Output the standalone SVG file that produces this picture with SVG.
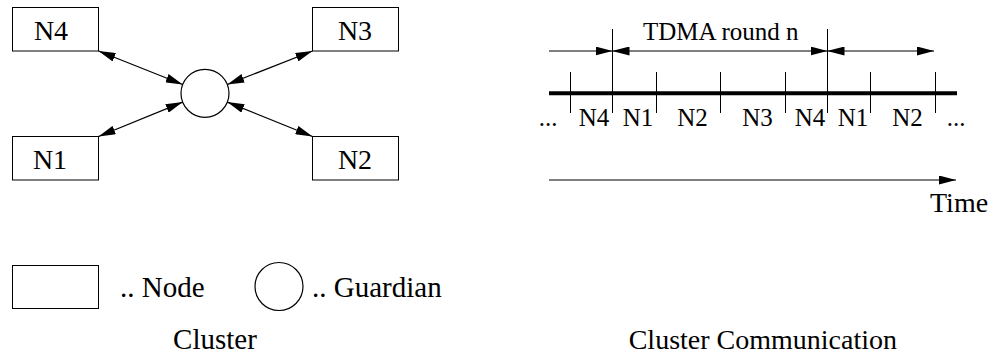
<svg xmlns="http://www.w3.org/2000/svg" width="994" height="355" viewBox="0 0 994 355">
  <style>
    text { font-family: "Liberation Serif", "Times New Roman", serif; font-size: 28px; fill: #000; }
    .small { font-size: 25px; }
    .cap { font-size: 29px; }
    .node { fill: #fff; stroke: #000; stroke-width: 1; }
    .guard { fill: #fff; stroke: #000; stroke-width: 1.2; }
    .link { stroke: #000; stroke-width: 1.2; fill: none; }
    .tick { stroke: #000; stroke-width: 1; }
    .bus { stroke: #000; stroke-width: 4; }
  </style>
  <defs>
    <marker id="head" markerUnits="userSpaceOnUse" viewBox="0 0 17 9" refX="17" refY="4.5" markerWidth="17" markerHeight="9" orient="auto-start-reverse">
      <path d="M0,0 L17,4.5 L0,9 Z" fill="#000"/>
    </marker>
  </defs>
  <rect width="994" height="355" fill="#fff"/>

  <!-- Cluster: four nodes around a central guardian -->
  <g id="node-n4"><rect class="node" x="12.5" y="7.5" width="86" height="43.5"/><text x="51" y="40" text-anchor="middle">N4</text></g>
  <g id="node-n3"><rect class="node" x="312.5" y="7.5" width="86" height="43.5"/><text x="355" y="40" text-anchor="middle">N3</text></g>
  <g id="node-n1"><rect class="node" x="12.5" y="136.5" width="86" height="43.5"/><text x="50" y="168.5" text-anchor="middle">N1</text></g>
  <g id="node-n2"><rect class="node" x="312.5" y="136.5" width="86" height="43.5"/><text x="355" y="168.5" text-anchor="middle">N2</text></g>
  <g id="guardian"><circle class="guard" cx="205" cy="93.3" r="24"/></g>

  <g id="connectors">
    <line class="link" x1="98.5" y1="51" x2="182.7" y2="84.5" marker-start="url(#head)" marker-end="url(#head)"/>
    <line class="link" x1="312.5" y1="51" x2="227.3" y2="84.5" marker-start="url(#head)" marker-end="url(#head)"/>
    <line class="link" x1="98.5" y1="136.5" x2="182.7" y2="102.1" marker-start="url(#head)" marker-end="url(#head)"/>
    <line class="link" x1="312.5" y1="136.5" x2="227.3" y2="102.1" marker-start="url(#head)" marker-end="url(#head)"/>
  </g>

  <!-- Legend -->
  <g id="legend">
    <rect class="node" x="12.5" y="265.5" width="86" height="43"/>
    <text class="cap" x="120" y="297">.. Node</text>
    <circle class="guard" cx="279" cy="286.5" r="24"/>
    <text class="cap" x="312" y="297">.. Guardian</text>
  </g>
  <text class="cap" x="215" y="349" text-anchor="middle">Cluster</text>

  <!-- Cluster communication: TDMA schedule -->
  <g id="tdma">
    <text class="small" x="643" y="40">TDMA round n</text>
    <line class="link" x1="549" y1="51" x2="612.5" y2="51" marker-end="url(#head)"/>
    <line class="link" x1="612.5" y1="51" x2="827.5" y2="51" marker-start="url(#head)" marker-end="url(#head)"/>
    <line class="link" x1="827.5" y1="51" x2="934" y2="51" marker-start="url(#head)" marker-end="url(#head)"/>
    <line class="bus" x1="549" y1="93.3" x2="957" y2="93.3"/>
    <line class="tick" x1="612.5" y1="29" x2="612.5" y2="113"/>
    <line class="tick" x1="827.5" y1="29" x2="827.5" y2="113"/>
    <line class="tick" x1="570.5" y1="72" x2="570.5" y2="113"/>
    <line class="tick" x1="656.5" y1="72" x2="656.5" y2="113"/>
    <line class="tick" x1="720.5" y1="72" x2="720.5" y2="113"/>
    <line class="tick" x1="785.5" y1="72" x2="785.5" y2="113"/>
    <line class="tick" x1="870.5" y1="72" x2="870.5" y2="113"/>
    <line class="tick" x1="935.5" y1="72" x2="935.5" y2="113"/>
    <g class="slots" text-anchor="middle">
      <text class="small" x="548" y="126">...</text>
      <text class="small" x="594" y="126">N4</text>
      <text class="small" x="638" y="126">N1</text>
      <text class="small" x="692.5" y="126">N2</text>
      <text class="small" x="757.5" y="126">N3</text>
      <text class="small" x="810" y="126">N4</text>
      <text class="small" x="853" y="126">N1</text>
      <text class="small" x="907.5" y="126">N2</text>
      <text class="small" x="956" y="126">...</text>
    </g>
    <line class="link" x1="549" y1="180" x2="956" y2="180" marker-end="url(#head)"/>
    <text x="930" y="211.5">Time</text>
  </g>
  <text x="897" y="349" text-anchor="end">Cluster Communication</text>
</svg>
